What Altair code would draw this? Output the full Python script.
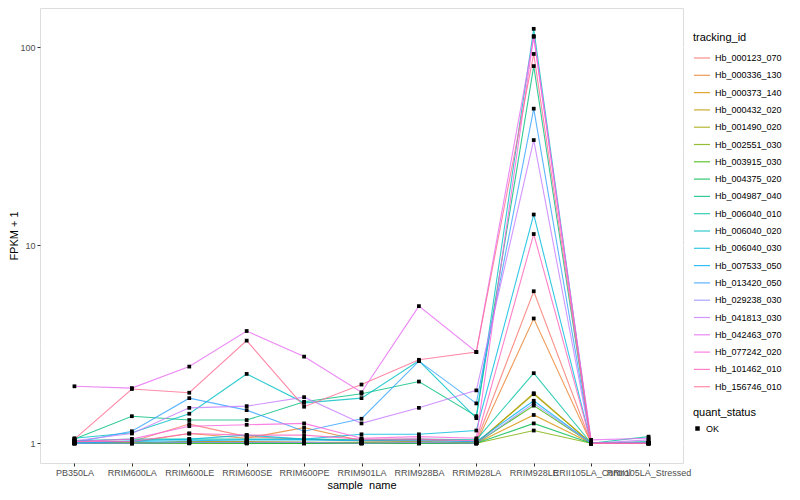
import altair as alt
import pandas as pd

samples = ["PB350LA", "RRIM600LA", "RRIM600LE", "RRIM600SE", "RRIM600PE",
           "RRIM901LA", "RRIM928BA", "RRIM928LA", "RRIM928LE",
           "RRII105LA_Control", "RRII105LA_Stressed"]

tracking_ids = ["Hb_000123_070", "Hb_000336_130", "Hb_000373_140", "Hb_000432_020",
                "Hb_001490_020", "Hb_002551_030", "Hb_003915_030", "Hb_004375_020",
                "Hb_004987_040", "Hb_006040_010", "Hb_006040_020", "Hb_006040_030",
                "Hb_007533_050", "Hb_013420_050", "Hb_029238_030", "Hb_041813_030",
                "Hb_042463_070", "Hb_077242_020", "Hb_101462_010", "Hb_156746_010"]

palette = ["#F8766D", "#EA8331", "#D89000", "#C09B00", "#A3A500", "#7CAE00",
           "#39B600", "#00BB4E", "#00BF7D", "#00C1A3", "#00BFC4", "#00BAE0",
           "#00B0F6", "#35A2FF", "#9590FF", "#C77CFF", "#E76BF3", "#FA62DB",
           "#FF62BC", "#FF6C91"]

# FPKM + 1 per sample (same order as samples)
hb_000123_070 = [1.03, 1.02, 1.25, 1.08, 1.05, 1.03, 1.04, 1.02, 5.86, 1.00, 1.00]
hb_000336_130 = [1.00, 1.01, 1.12, 1.06, 1.20, 1.03, 1.02, 1.00, 4.27, 1.00, 1.00]
hb_000373_140 = [1.00, 1.00, 1.02, 1.02, 1.01, 1.00, 1.01, 1.00, 1.39, 1.00, 1.00]
hb_000432_020 = [1.00, 1.00, 1.02, 1.02, 1.01, 1.01, 1.02, 1.00, 1.79, 1.00, 1.00]
hb_001490_020 = [1.00, 1.00, 1.01, 1.01, 1.00, 1.00, 1.00, 1.00, 1.77, 1.00, 1.00]
hb_002551_030 = [1.00, 1.00, 1.00, 1.00, 1.00, 1.00, 1.00, 1.00, 1.16, 1.00, 1.00]
hb_003915_030 = [1.00, 1.00, 1.00, 1.00, 1.00, 1.00, 1.00, 1.00, 1.55, 1.00, 1.00]
hb_004375_020 = [1.00, 1.00, 1.01, 1.00, 1.00, 1.00, 1.00, 1.00, 1.26, 1.00, 1.00]
hb_004987_040 = [1.05, 1.37, 1.31, 1.31, 1.62, 1.78, 2.05, 1.37, 80.4, 1.00, 1.02]
hb_006040_010 = [1.03, 1.05, 1.05, 1.05, 1.05, 1.04, 1.05, 1.04, 2.26, 1.00, 1.08]
hb_006040_020 = [1.06, 1.13, 1.41, 2.24, 1.60, 1.69, 2.61, 1.34, 124.0, 1.00, 1.00]
hb_006040_030 = [1.00, 1.03, 1.05, 1.10, 1.05, 1.11, 1.11, 1.16, 14.3, 1.00, 1.00]
hb_007533_050 = [1.00, 1.02, 1.03, 1.04, 1.04, 1.03, 1.03, 1.02, 1.64, 1.00, 1.00]
hb_013420_050 = [1.01, 1.15, 1.69, 1.47, 1.15, 1.33, 2.60, 1.59, 49.0, 1.00, 1.01]
hb_029238_030 = [1.00, 1.00, 1.01, 1.01, 1.01, 1.00, 1.01, 1.00, 1.59, 1.00, 1.00]
hb_041813_030 = [1.03, 1.12, 1.51, 1.54, 1.71, 1.26, 1.51, 1.85, 34.0, 1.00, 1.04]
hb_042463_070 = [1.94, 1.90, 2.44, 3.69, 2.74, 1.81, 4.93, 2.89, 113.0, 1.04, 1.06]
hb_077242_020 = [1.02, 1.05, 1.22, 1.24, 1.26, 1.06, 1.08, 1.06, 114.0, 1.00, 1.00]
hb_101462_010 = [1.02, 1.02, 1.12, 1.10, 1.10, 1.05, 1.05, 1.03, 11.4, 1.00, 1.00]
hb_156746_010 = [1.05, 1.88, 1.80, 3.30, 1.53, 1.98, 2.64, 2.89, 92.6, 1.00, 1.00]

series = [hb_000123_070, hb_000336_130, hb_000373_140, hb_000432_020, hb_001490_020,
          hb_002551_030, hb_003915_030, hb_004375_020, hb_004987_040, hb_006040_010,
          hb_006040_020, hb_006040_030, hb_007533_050, hb_013420_050, hb_029238_030,
          hb_041813_030, hb_042463_070, hb_077242_020, hb_101462_010, hb_156746_010]

all_ticks = [1, 3.1623, 10, 31.623, 100]

rows = []
for tid, vals in zip(tracking_ids, series):
    for s, v in zip(samples, vals):
        rows.append({"tracking_id": tid, "sample_name": s, "fpkm1": v, "quant_status": "OK"})
df = pd.DataFrame(rows)

W, H = 643, 455
major_test = "datum.value == 1 || datum.value == 10 || datum.value == 100"

x_enc = alt.X("sample_name:N", sort=samples, title="sample_name",
              scale=alt.Scale(type="point", padding=0.6),
              axis=alt.Axis(labelAngle=0, labelOverlap=False, labelBound=False,
                            labelFontSize=9, labelColor="#4D4D4D", tickColor="#333333",
                            tickSize=3, domain=False, gridColor="white", gridWidth=1.1,
                            titleFontSize=11, titleFontWeight="normal", titleColor="black",
                            titlePadding=2, labelPadding=2))
y_enc = alt.Y("fpkm1:Q", title="FPKM + 1",
              scale=alt.Scale(type="log", domain=[0.795, 158], nice=False),
              axis=alt.Axis(values=all_ticks,
                            labelExpr="(" + major_test + ") ? format(datum.value, 'd') : ''",
                            labelFontSize=9, labelColor="#4D4D4D", tickColor="#333333",
                            tickSize=3, domain=False, gridColor="white",
                            gridWidth={"condition": {"test": major_test, "value": 1.1}, "value": 0.5},
                            tickOpacity={"condition": {"test": major_test, "value": 1}, "value": 0},
                            titleFontSize=11, titleFontWeight="normal", titleColor="black",
                            titleX=-21, titleBaseline="bottom", labelPadding=2))

lines = alt.Chart(df).mark_line(strokeWidth=1.1, opacity=0.8).encode(
    x=x_enc, y=y_enc,
    color=alt.Color("tracking_id:N", sort=tracking_ids,
                    scale=alt.Scale(domain=tracking_ids, range=palette),
                    legend=alt.Legend(title="tracking_id", symbolType="stroke",
                                      symbolStrokeWidth=1.2, symbolSize=260,
                                      labelFontSize=9, titleFontSize=11,
                                      titleFontWeight="normal", rowPadding=3.3,
                                      titlePadding=6,
                                      orient="none", legendX=W + 10, legendY=24)),
    detail="tracking_id:N",
)

points = alt.Chart(df).mark_point(filled=True, size=14, opacity=1).encode(
    x=alt.X("sample_name:N", sort=samples),
    y="fpkm1:Q",
    shape=alt.Shape("quant_status:N", scale=alt.Scale(range=["square"]),
                    legend=alt.Legend(title="quant_status", labelFontSize=9,
                                      titleFontSize=11, titleFontWeight="normal",
                                      symbolFillColor="black", symbolStrokeColor="black",
                                      symbolSize=20, titlePadding=6,
                                      orient="none", legendX=W + 10, legendY=399)),
    color=alt.value("black"),
)

chart = alt.layer(lines, points).properties(
    width=W, height=H,
    padding={"left": 0, "top": 0, "right": 0, "bottom": 0},
).configure_view(
    fill="#EBEBEB", stroke=None
).configure(
    font="Liberation Sans"
).configure_legend(
    labelFont="Liberation Sans", titleFont="Liberation Sans", padding=0
)

chart.save("out.html", embed_options={"renderer": "svg", "actions": False})
